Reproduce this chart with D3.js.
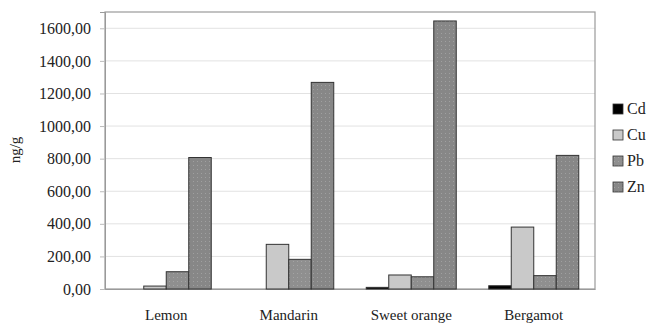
<!DOCTYPE html>
<html>
<head>
<meta charset="utf-8">
<script src="https://cdn.jsdelivr.net/npm/d3@7"></script>
<style>
  body { margin: 0; background: #fff; }
  svg { display: block; }
  svg text { font-family: "Liberation Serif", "Times New Roman", "DejaVu Serif", serif !important; fill: #222; }
</style>
</head>
<body>
<svg id="chart" width="651" height="324"></svg>
<script>
// data (ng/g)
const fruits = ["Lemon", "Mandarin", "Sweet orange", "Bergamot"];
const metals = ["Cd", "Cu", "Pb", "Zn"];
const cd = [0, 0, 10, 20];
const cu = [18, 274, 86, 380];
const pb = [106, 182, 75, 82];
const zn = [807, 1268, 1645, 820];
const yTicks = [0, 200, 400, 600, 800, 1000, 1200, 1400, 1600];

const series = [cd, cu, pb, zn];
const rows = [];
fruits.forEach((f, i) => {
    metals.forEach((m, j) => rows.push({ fruit: f, metal: m, value: series[j][i] }));
});

const svg = d3.select("#chart");
const plotL = 105, plotR = 595, plotT = 12, plotB = 289;

// patterns for the stippled bars
const defs = svg.append("defs");
function dots(id, bg, dot) {
    const p = defs.append("pattern").attr("id", id)
        .attr("width", 4).attr("height", 4).attr("patternUnits", "userSpaceOnUse");
    p.append("rect").attr("width", 4).attr("height", 4).attr("fill", bg);
    p.append("rect").attr("x", 1).attr("y", 1).attr("width", 1).attr("height", 1).attr("fill", dot);
}
dots("pPb", "#8f8f8f", "#a4a4a4");
dots("pZn", "#878787", "#a0a0a0");

const fills = { Cd: "#000", Cu: "#c9c9c9", Pb: "url(#pPb)", Zn: "url(#pZn)" };

const x0 = d3.scaleBand().domain(fruits).range([plotL, plotR]);
const x1 = d3.scaleBand().domain(metals).range([0, 90]);
const y = d3.scaleLinear().domain([0, 1700]).range([plotB, plotT]);

// gridlines
svg.append("g").selectAll("line").data(yTicks.slice(1)).join("line")
    .attr("x1", plotL).attr("x2", plotR)
    .attr("y1", d => y(d)).attr("y2", d => y(d))
    .attr("stroke", "#e2e2e2").attr("stroke-width", 1);

// plot frame
svg.append("rect")
    .attr("x", plotL).attr("y", plotT)
    .attr("width", plotR - plotL).attr("height", plotB - plotT)
    .attr("fill", "none").attr("stroke", "#9a9a9a").attr("stroke-width", 1.2);

// y axis
const yAxis = d3.axisLeft(y).tickValues(yTicks).tickSize(5).tickPadding(9)
    .tickFormat(d => d3.format(".2f")(d).replace(".", ","));
const ya = svg.append("g").attr("transform", `translate(${plotL},0)`).call(yAxis)
    .attr("font-size", 16).attr("font-family", null);
ya.select(".domain").attr("stroke", "#9a9a9a");
ya.selectAll(".tick line").attr("stroke", "#bbb");

// x axis
const xAxis = d3.axisBottom(x0).tickSize(0).tickPadding(20);
const xa = svg.append("g").attr("transform", `translate(0,${plotB})`).call(xAxis)
    .attr("font-size", 15).attr("font-family", null);
xa.select(".domain").attr("stroke", "#9a9a9a");

// bars
const gap = (x0.bandwidth() - 90) / 2;
svg.append("g").selectAll("rect").data(rows.filter(d => d.value > 0)).join("rect")
    .attr("x", d => x0(d.fruit) + gap + x1(d.metal))
    .attr("y", d => y(d.value))
    .attr("width", x1.bandwidth())
    .attr("height", d => plotB - y(d.value))
    .attr("fill", d => fills[d.metal])
    .attr("stroke", "#333").attr("stroke-width", 1);

// y label
svg.append("text")
    .attr("transform", "translate(20,150) rotate(-90)")
    .attr("text-anchor", "middle")
    .attr("font-size", 15)
    .text("ng/g");

// legend
const lg = svg.append("g").attr("transform", "translate(613,104)");
const item = lg.selectAll("g").data(metals).join("g")
    .attr("transform", (d, i) => `translate(0,${i * 26})`);
item.append("rect")
    .attr("width", 10).attr("height", 10)
    .attr("fill", d => fills[d]).attr("stroke", "#333").attr("stroke-width", 0.8);
item.append("text")
    .attr("x", 14).attr("y", 10)
    .attr("font-size", 16)
    .text(d => d);
</script>
</body>
</html>
